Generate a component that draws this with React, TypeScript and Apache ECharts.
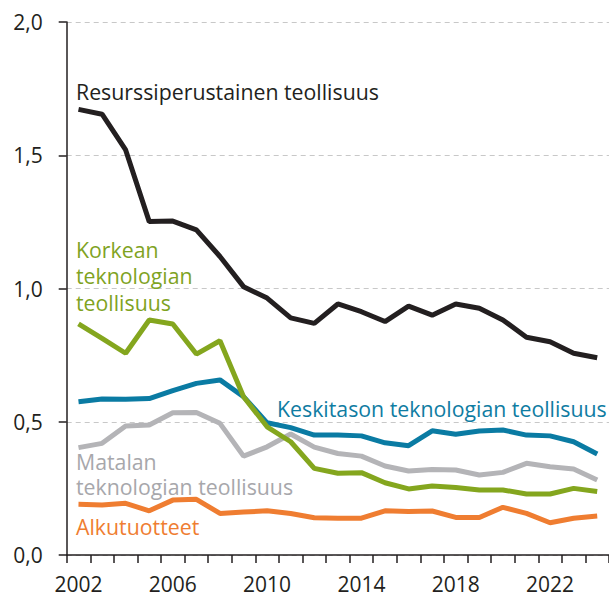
import React, { useEffect, useRef } from "react";
import * as echarts from "echarts";

const years = [
  "2002", "2003", "2004", "2005", "2006", "2007", "2008", "2009", "2010", "2011", "2012", "2013",
  "2014", "2015", "2016", "2017", "2018", "2019", "2020", "2021", "2022", "2023", "2024",
];

const resurssi = [1.672, 1.654, 1.52, 1.251, 1.253, 1.22, 1.12, 1.007, 0.964, 0.89, 0.869, 0.942, 0.913, 0.876, 0.934, 0.9, 0.942, 0.926, 0.882, 0.817, 0.8, 0.757, 0.74];
const korkea = [0.867, 0.813, 0.757, 0.882, 0.867, 0.754, 0.804, 0.594, 0.481, 0.425, 0.325, 0.307, 0.309, 0.271, 0.248, 0.259, 0.253, 0.244, 0.244, 0.229, 0.229, 0.25, 0.238];
const keskitaso = [0.575, 0.585, 0.584, 0.587, 0.617, 0.644, 0.657, 0.594, 0.496, 0.478, 0.45, 0.45, 0.447, 0.421, 0.41, 0.466, 0.453, 0.465, 0.469, 0.45, 0.447, 0.425, 0.379];
const matala = [0.403, 0.419, 0.484, 0.488, 0.534, 0.535, 0.494, 0.371, 0.406, 0.454, 0.405, 0.381, 0.371, 0.334, 0.315, 0.321, 0.319, 0.3, 0.31, 0.344, 0.331, 0.323, 0.281];
const alku = [0.19, 0.188, 0.194, 0.166, 0.206, 0.209, 0.156, 0.161, 0.166, 0.156, 0.14, 0.138, 0.138, 0.166, 0.163, 0.165, 0.141, 0.141, 0.179, 0.156, 0.121, 0.138, 0.146];

const seriesNames = [
  "Resurssiperustainen teollisuus",
  "Korkean teknologian teollisuus",
  "Keskitason teknologian teollisuus",
  "Matalan teknologian teollisuus",
  "Alkutuotteet",
];

const labelLines = {
  resurssi: ["Resurssiperustainen teollisuus"],
  korkea: ["Korkean", "teknologian", "teollisuus"],
  keskitaso: ["Keskitason teknologian teollisuus"],
  matala: ["Matalan", "teknologian teollisuus"],
  alku: ["Alkutuotteet"],
};

const COLORS = {
  black: "#231f20",
  green: "#84a61e",
  blue: "#0a7ba3",
  gray: "#b4b4b7",
  orange: "#ef7d31",
};
const TEXT = {
  black: "#231f20",
  green: "#7fa31f",
  blue: "#0f7ca2",
  gray: "#a7a7ab",
  orange: "#ef7d31",
};

const FONT = "'Open Sans', sans-serif";
const FS = 21.3;

export default function App() {
  const ref = useRef<HTMLDivElement>(null);
  useEffect(() => {
    if (!ref.current) return;
    const chart = echarts.init(ref.current, undefined, { renderer: "svg" });
    const mk = (name: string, data: number[], color: string) => ({
      name,
      type: "line",
      data,
      symbol: "none",
      lineStyle: { width: 5, color },
      itemStyle: { color },
      z: 3,
    });
    const block = (lines: string[], x: number, yCenter: number, lh: number, fill: string) =>
      lines.map((text, i) => ({
        type: "text",
        x,
        y: yCenter + i * lh,
        style: {
          text,
          fill,
          font: `${FS}px ${FONT}`,
          textAlign: "left",
          textVerticalAlign: "middle",
          lineHeight: 18,
        },
        z: 10,
      }));
    chart.setOption({
      animation: false,
      backgroundColor: "#ffffff",
      textStyle: { fontFamily: FONT },
      grid: { left: 66.7, right: -4, top: 22, bottom: 42, containLabel: false },
      xAxis: {
        type: "category",
        data: years,
        boundaryGap: true,
        axisLine: { show: true, lineStyle: { color: "#231f20", width: 1.5 } },
        axisTick: { show: true, interval: 0, length: 8, lineStyle: { color: "#231f20", width: 1.5 } },
        axisLabel: { interval: 3, fontSize: 21, color: "#231f20", margin: 18, fontFamily: FONT },
        splitLine: { show: false },
      },
      yAxis: {
        type: "value",
        min: 0,
        max: 2,
        interval: 0.5,
        axisLine: { show: true, lineStyle: { color: "#231f20", width: 1.5 } },
        axisTick: { show: true, length: 8, lineStyle: { color: "#231f20", width: 1.5 } },
        axisLabel: {
          fontSize: 21,
          color: "#231f20",
          margin: 24,
          fontFamily: FONT,
          formatter: (v: number) => v.toFixed(1).replace(".", ","),
        },
        splitLine: { show: true, lineStyle: { color: "#c8c8c8", type: [5, 4], width: 1 } },
      },
      series: [
        mk(seriesNames[4], alku, COLORS.orange),
        mk(seriesNames[3], matala, COLORS.gray),
        mk(seriesNames[2], keskitaso, COLORS.blue),
        mk(seriesNames[1], korkea, COLORS.green),
        mk(seriesNames[0], resurssi, COLORS.black),
      ],
      graphic: [
        ...block(labelLines.resurssi, 76, 91, 26, TEXT.black),
        ...block(labelLines.korkea, 76, 249.5, 26.3, TEXT.green),
        ...block(labelLines.keskitaso, 277, 408.5, 26, TEXT.blue),
        ...block(labelLines.matala, 76, 461.5, 25, TEXT.gray),
        ...block(labelLines.alku, 76, 526, 26, TEXT.orange),
      ],
    });
    return () => chart.dispose();
  }, []);
  return (
    <div style={{ position: "fixed", left: 0, top: 0, width: 609, height: 597, overflow: "hidden", background: "#fff" }}>
      <div ref={ref} style={{ width: 609, height: 597 }} />
    </div>
  );
}
